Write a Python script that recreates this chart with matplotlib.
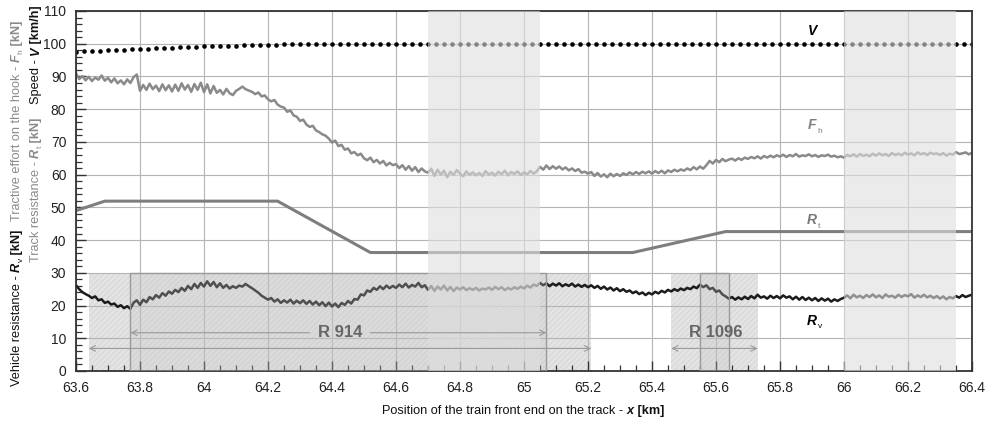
import numpy as np
import matplotlib
matplotlib.use('Agg')
import matplotlib.pyplot as plt
from matplotlib.patches import Rectangle
from matplotlib.transforms import IdentityTransform

plt.rcParams['font.family'] = ['Liberation Sans', 'DejaVu Sans']

# ---- data ----
# speed V [km/h], one dot every 0.025 km from 63.6 to 66.4
v_speed = [97.6, 97.7, 97.8, 97.9, 98.0, 98.1, 98.2, 98.3, 98.4, 98.5,
           98.6, 98.7, 98.8, 98.9, 99.0, 99.1, 99.2, 99.3, 99.35, 99.4,
           99.45, 99.5, 99.55, 99.6, 99.7, 99.75, 99.8, 99.85, 99.9, 99.9,
           99.95, 100.0, 100.0] + [100.0] * 80

# track resistance Rt [kN], break points
rt_km = [63.6, 63.69, 64.23, 64.52, 65.34, 65.63, 66.4]
rt_kn = [49.0, 51.9, 51.9, 36.2, 36.2, 42.6, 42.6]

# tractive effort Fh [kN], every 0.01 km from 63.60 to 66.40
fh_kn = [
    91.0, 89.2, 90.1, 88.8, 89.9, 88.6, 89.7, 89.0, 90.3, 88.7,
    89.6, 88.2, 89.4, 87.9, 88.8, 87.6, 89.1, 88.0, 89.8, 90.6,
    85.6, 87.4, 85.9, 87.8, 86.1, 87.2, 85.5, 87.6, 85.8, 87.3,
    85.4, 87.5, 85.6, 87.9, 86.0, 87.4, 85.3, 87.7, 85.9, 88.1,
    85.2, 87.6, 84.8, 87.1, 85.0, 85.9, 84.5, 86.2, 84.9, 84.3,
    85.6, 86.2, 86.9, 86.1, 85.7, 85.3, 84.6, 85.1, 83.9, 84.2,
    83.0, 82.4, 82.8, 81.4, 80.8, 80.5, 79.2, 79.6, 78.1, 77.7,
    76.4, 76.8, 75.3, 74.6, 74.9, 73.5, 73.0, 72.3, 71.9, 71.0,
    69.8, 70.4, 68.7, 69.1, 67.6, 68.0, 66.5, 66.9, 65.9, 66.4,
    65.0, 64.4, 65.2, 63.8, 64.5, 63.4, 64.2, 62.8, 63.6, 62.9,
    63.2, 62.0, 62.9, 61.5, 62.6, 61.2, 62.3, 60.8, 61.9, 61.0,
    60.6, 61.8, 59.6, 61.5, 60.0, 61.2, 59.2, 60.9, 59.9, 61.4,
    60.3, 59.5, 61.0, 59.9, 60.7, 59.8, 60.5, 59.6, 61.1, 60.0,
    60.6, 59.7, 60.9, 60.1, 61.2, 59.8, 60.8, 60.2, 61.0, 59.9,
    60.7, 60.1, 61.1, 60.3, 61.0, 62.4, 61.5, 62.8, 61.7, 62.6,
    61.8, 62.5, 61.6, 62.2, 61.3, 61.9, 61.1, 61.7, 60.6, 60.9,
    60.3, 60.8, 59.6, 60.5, 59.4, 60.1, 59.2, 60.3, 59.5, 60.2,
    59.6, 60.4, 59.9, 60.7, 60.1, 60.8, 60.2, 60.9, 60.4, 61.0,
    60.3, 61.1, 60.5, 61.2, 60.4, 61.3, 60.8, 61.5, 61.0, 61.6,
    61.2, 61.9, 61.4, 62.3, 61.6, 62.5, 61.8, 62.9, 64.2, 63.4,
    64.5, 63.8, 64.8, 64.1, 64.6, 64.9, 64.3, 65.0, 64.5, 65.2,
    64.8, 65.4, 65.0, 65.6, 64.9, 65.7, 65.2, 65.8, 65.3, 65.9,
    65.5, 66.1, 65.4, 66.0, 65.6, 66.3, 65.5, 65.9, 65.7, 66.2,
    65.6, 66.0, 65.4, 65.9, 65.7, 66.1, 65.5, 65.8, 65.3, 65.6,
    65.2, 66.0, 65.6, 66.2, 65.5, 66.3, 65.7, 66.1, 65.6, 66.4,
    65.8, 66.5, 65.9, 66.3, 65.7, 66.6, 66.0, 66.4, 65.9, 66.7,
    66.1, 66.5, 65.9, 66.8, 66.2, 66.6, 66.0, 66.7, 66.3, 66.5,
    66.0, 66.6, 65.8, 66.4, 66.1, 66.9, 66.3, 66.5, 66.8, 66.2,
    66.7]

# vehicle resistance Rv [kN], every 0.01 km from 63.60 to 66.40
rv_kn = [
    26.2, 25.0, 24.1, 23.5, 23.0, 22.3, 22.8, 21.6, 21.9, 20.8,
    21.2, 20.3, 20.6, 19.6, 20.1, 19.2, 19.8, 19.0, 20.9, 21.6,
    20.2, 21.8, 21.0, 22.6, 21.9, 23.2, 22.4, 23.8, 23.0, 24.3,
    23.6, 24.8, 24.1, 25.4, 24.5, 26.0, 25.0, 26.6, 25.4, 26.9,
    25.8, 27.4, 26.0, 27.2, 25.6, 26.8, 25.4, 26.3, 25.2, 25.9,
    25.4, 26.1, 25.8, 26.6, 25.9, 25.3, 24.6, 23.9, 23.0, 22.4,
    21.8, 22.3, 21.2, 21.9, 20.8, 21.6, 20.9, 21.8, 20.6, 21.5,
    20.7, 21.6, 20.5, 21.4, 20.3, 21.2, 20.1, 21.0, 19.8, 20.9,
    19.7, 20.6, 19.5, 20.8, 20.2, 21.4, 20.6, 22.0, 21.8, 23.4,
    23.1, 24.6, 24.2, 25.4, 24.8, 25.9, 25.0, 26.1, 25.3, 26.0,
    25.4, 26.4, 25.6, 26.7, 25.5, 26.3, 25.8, 26.9, 25.6, 26.2,
    24.8, 26.0, 24.5, 25.8, 24.9, 26.1, 24.6, 25.7, 24.4, 25.5,
    24.9, 25.6, 24.7, 25.3, 24.8, 25.4, 24.6, 25.2, 24.9, 25.5,
    24.8, 25.7, 25.0, 25.6, 24.7, 25.4, 24.9, 25.6, 25.1, 25.8,
    25.2, 26.1, 25.5, 26.4, 26.0, 26.9, 26.2, 26.8, 25.9, 26.7,
    26.1, 26.8, 25.9, 26.5, 26.0, 26.7, 25.8, 26.4, 25.7, 26.3,
    25.6, 26.2, 25.4, 26.0, 25.1, 25.8, 24.9, 25.5, 24.6, 25.3,
    24.4, 25.0, 24.2, 24.6, 23.8, 24.3, 23.5, 24.0, 23.2, 23.9,
    23.4, 24.2, 23.7, 24.5, 24.0, 24.8, 24.3, 25.0, 24.5, 25.2,
    24.7, 25.4, 25.0, 25.8, 25.3, 26.4, 25.6, 26.2, 25.0, 25.4,
    24.2, 24.6, 23.4, 22.8, 22.1, 22.6, 21.8, 22.5, 21.9, 22.7,
    22.0, 22.9, 22.2, 23.3, 22.4, 22.8, 22.1, 23.0, 22.3, 22.9,
    22.2, 23.1, 22.4, 22.8, 21.9, 22.7, 21.8, 22.6, 21.7, 22.4,
    21.6, 22.3, 21.4, 22.2, 21.5, 22.1, 21.2, 21.9, 21.4, 22.0,
    22.4, 23.1, 22.2, 23.3, 22.5, 23.0, 22.3, 23.2, 22.6, 23.4,
    22.5, 23.1, 22.3, 23.4, 22.7, 23.0, 22.4, 23.3, 22.6, 23.2,
    22.8, 23.5, 22.4, 23.1, 22.6, 23.3, 22.5, 23.0, 22.3, 22.9,
    22.1, 22.8, 21.9, 22.6, 22.2, 22.9, 22.4, 23.2, 22.6, 23.0,
    23.3]

# highlighted track sections [km]
bands = [(64.70, 65.05), (66.00, 66.35)]
curve_outer = [(63.64, 65.21), (65.46, 65.73)]
curve_inner = [(63.77, 65.07), (65.55, 65.64)]
curve_names = ['R 914', 'R 1096']

sig_km = np.round(np.arange(63.6, 66.4001, 0.01), 2)
v_km = np.round(np.arange(63.6, 66.4001, 0.025), 3)

# ---- figure ----
fig = plt.figure(figsize=(9.89, 4.22), dpi=100)
ax = fig.add_axes([76 / 989, 51 / 422, 896 / 989, 360 / 422])
ax.set_xlim(63.6, 66.4)
ax.set_ylim(0, 110)

ax.set_xticks(np.round(np.arange(63.6, 66.41, 0.2), 1))
ax.set_xticklabels(['63.6', '63.8', '64', '64.2', '64.4', '64.6', '64.8', '65',
                    '65.2', '65.4', '65.6', '65.8', '66', '66.2', '66.4'])
ax.set_xticks(np.arange(63.6, 66.41, 0.05), minor=True)
ax.set_yticks(np.arange(0, 111, 10))
ax.set_yticks(np.arange(0, 111, 2), minor=True)
ax.tick_params(which='both', direction='in', top=False, right=False,
               labelsize=10, labelcolor='#222222', color='#333333')
ax.tick_params(which='major', length=7, width=1, pad=7)
ax.tick_params(which='minor', length=4.5, width=0.9)
ax.grid(True, which='major', color='#b4b4b4', lw=0.8)
for sp in ax.spines.values():
    sp.set_color('#333333')
    sp.set_linewidth(1.3)

# curve sections (faint hatching, under the lines)
for x0, x1 in curve_outer:
    ax.add_patch(Rectangle((x0, 0), x1 - x0, 30, facecolor='#e4e4e4',
                           edgecolor='#d9d9d9', hatch='//////', lw=0, zorder=0.5))

# series
ax.plot(sig_km, fh_kn, color='#8a8a8a', lw=1.8, zorder=2)
ax.plot(rt_km, rt_kn, color='#7e7e7e', lw=2.2, zorder=2)
ax.plot(sig_km, rv_kn, color='#1c1c1c', lw=1.8, zorder=2)
ax.plot(v_km, v_speed, 'o', color='black', ms=3.3, mew=0, zorder=2)

# overlays that fade the lines
for x0, x1 in curve_inner:
    ax.add_patch(Rectangle((x0, 0), x1 - x0, 30, facecolor=(0.78, 0.78, 0.78, 0.3),
                           edgecolor='#9a9a9a', lw=1, zorder=3))
for x0, x1 in bands:
    ax.add_patch(Rectangle((x0, 0), x1 - x0, 110, facecolor='#dedede',
                           alpha=0.6, lw=0, zorder=3))

# curve arrows and names
arr = dict(arrowstyle='->', color='#9a9a9a', lw=0.8, shrinkA=0, shrinkB=0,
           mutation_scale=10)
ax.annotate('', xy=(curve_inner[0][0], 11.7), xytext=(64.33, 11.7), arrowprops=arr, zorder=5)
ax.annotate('', xy=(curve_inner[0][1], 11.7), xytext=(64.52, 11.7), arrowprops=arr, zorder=5)
for (x0, x1), name, xt in zip(curve_outer, curve_names, [64.425, 65.60]):
    ax.annotate('', xy=(x0, 6.9), xytext=(x1, 6.9),
                arrowprops=dict(arr, arrowstyle='<->'), zorder=5)
    ax.text(xt, 11.7, name, ha='center', va='center', fontsize=12,
            fontweight='bold', color='#666666', zorder=6)


def series_label(x, y, main, sub, color):
    ax.text(x, y, main, ha='center', va='baseline', fontsize=10,
            fontweight='bold', fontstyle='italic', color=color, zorder=6)
    if sub:
        ax.annotate(sub, xy=(x, y), xytext=(4, -2.5), textcoords='offset points',
                    ha='left', va='baseline', fontsize=6, color=color, zorder=6)


series_label(65.90, 102.6, 'V', '', 'black')
series_label(65.90, 73.8, 'F', 'h', '#808080')
series_label(65.90, 44.8, 'R', 't', '#777777')
series_label(65.90, 14.2, 'R', 'v', 'black')

# ---- multi-part axis titles ----
renderer = fig.canvas.get_renderer()
FS = 9.2


def chain(x, y, parts, vertical):
    pos = y if vertical else x
    texts = []
    for s, color, weight, style, size, shift in parts:
        kw = dict(color=color, fontweight=weight, fontstyle=style, fontsize=size,
                  ha='left', va='baseline', transform=IdentityTransform())
        if vertical:
            t = fig.text(x + shift, pos, s, rotation=90, rotation_mode='anchor', **kw)
            pos = t.get_window_extent(renderer).y1
        else:
            t = fig.text(pos, y - shift, s, **kw)
            pos = t.get_window_extent(renderer).x1
        texts.append(t)
    return texts, pos


def label_parts(prefix, sym, sub, unit, color):
    parts = [(prefix, color, 'normal', 'normal', FS, 0),
             (sym, color, 'bold', 'italic', FS, 0)]
    if sub:
        parts.append((sub, color, 'normal', 'normal', 6, 2.5))
    parts.append((unit, color, 'bold', 'normal', FS, 0))
    return parts


_, top1 = chain(20, 422 - 386, label_parts('Vehicle resistance - ', 'R', 'v', ' [kN]', '#111111'), True)
chain(20, top1 + 9, label_parts('Tractive effort on the hook - ', 'F', 'h', ' [kN]', '#8a8a8a'), True)
_, top2 = chain(39, 422 - 262, label_parts('Track resistance - ', 'R', 't', ' [kN]', '#8a8a8a'), True)
chain(39, top2 + 14, label_parts('Speed - ', 'V', '', ' [km/h]', '#111111'), True)

xl, end = chain(0, 422 - 414, label_parts('Position of the train front end on the track - ',
                                          'x', '', ' [km]', '#111111'), False)
shift = 523 - end / 2
for t in xl:
    px, py = t.get_position()
    t.set_position((px + shift, py))

fig.savefig('out.png', dpi=100)
